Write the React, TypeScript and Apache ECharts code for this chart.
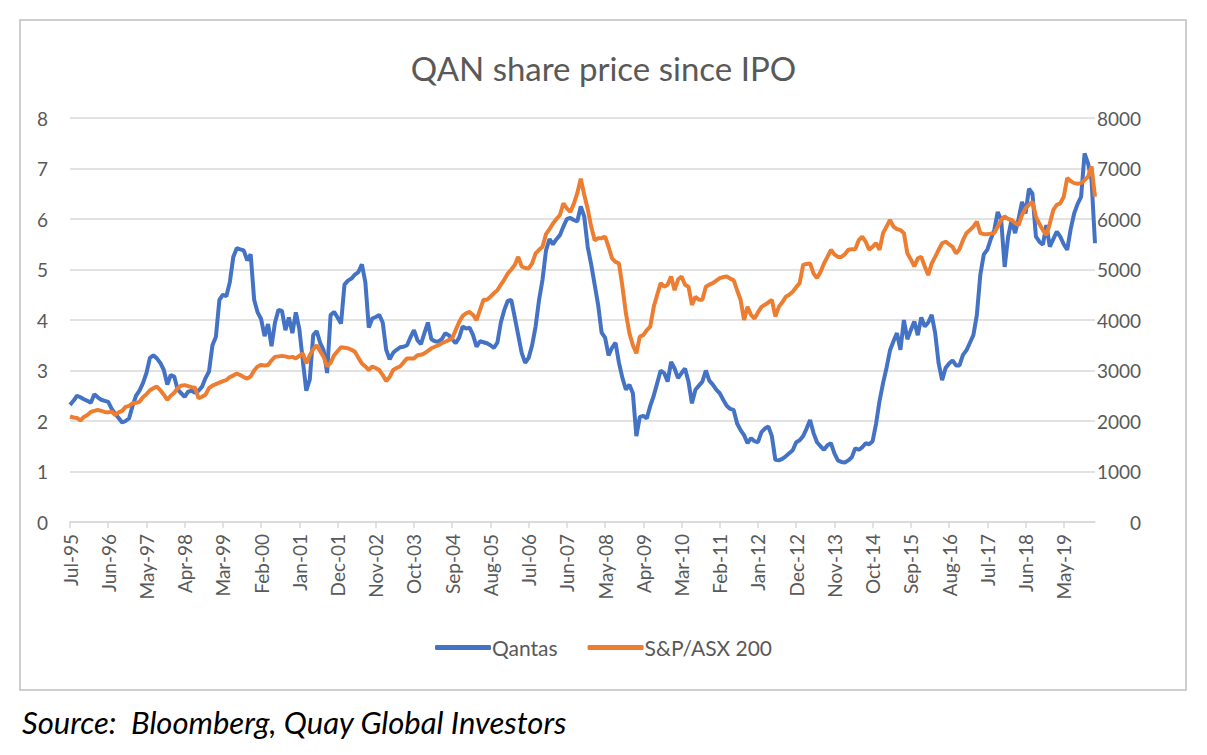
import { useEffect, useRef } from "react";
import * as echarts from "echarts";

/** Month labels, Jul-95 .. Feb-20 (one point per month) */
const MONTHS = ["Jan", "Feb", "Mar", "Apr", "May", "Jun", "Jul", "Aug", "Sep", "Oct", "Nov", "Dec"];
const START_YEAR = 1995;
const START_MONTH = 6; // Jul
const POINT_COUNT = 296;

const categories: string[] = [];
for (let i = 0; i < POINT_COUNT; i++) {
  const m = START_MONTH + i;
  const year = START_YEAR + Math.floor(m / 12);
  categories.push(`${MONTHS[m % 12]}-${String(year % 100).padStart(2, "0")}`);
}

/** Qantas share price, A$ (left axis) */
const qantas = [
  2.32, 2.4, 2.5, 2.47, 2.43, 2.4, 2.36, 2.53, 2.47, 2.42, 2.4, 2.38,
  2.24, 2.14, 2.06, 1.97, 2.0, 2.05, 2.3, 2.5, 2.6, 2.75, 2.95, 3.25,
  3.3, 3.24, 3.15, 3.01, 2.72, 2.91, 2.88, 2.62, 2.55, 2.48, 2.58, 2.6,
  2.56, 2.6, 2.68, 2.85, 2.98, 3.5, 3.67, 4.4, 4.5, 4.47, 4.75, 5.25,
  5.42, 5.4, 5.38, 5.18, 5.3, 4.4, 4.15, 4.02, 3.68, 3.92, 3.48, 3.95,
  4.2, 4.18, 3.8, 4.05, 3.74, 4.15, 3.82, 3.2, 2.6, 2.82, 3.7, 3.78,
  3.55, 3.4, 2.95, 4.1, 4.16, 4.05, 3.93, 4.7, 4.78, 4.82, 4.9, 4.95,
  5.1, 4.75, 3.85, 4.03, 4.06, 4.1, 3.95, 3.41, 3.22, 3.35, 3.41, 3.46,
  3.47, 3.5, 3.66, 3.8, 3.6, 3.52, 3.74, 3.95, 3.62, 3.58, 3.57, 3.62,
  3.74, 3.7, 3.62, 3.54, 3.65, 3.87, 3.83, 3.85, 3.7, 3.47, 3.58, 3.56,
  3.54, 3.5, 3.45, 3.55, 3.95, 4.2, 4.38, 4.4, 4.05, 3.7, 3.35, 3.15,
  3.25, 3.5, 3.87, 4.4, 4.8, 5.38, 5.6, 5.5, 5.6, 5.68, 5.85, 6.0,
  6.02, 5.98, 5.95, 6.25, 6.05, 5.45, 5.1, 4.7, 4.3, 3.75, 3.65, 3.3,
  3.45, 3.55, 3.15, 2.85, 2.62, 2.72, 2.55, 1.7, 2.08, 2.1, 2.05, 2.3,
  2.5, 2.75, 3.0, 2.95, 2.78, 3.17, 3.04, 2.85, 2.95, 3.04, 2.78, 2.35,
  2.62, 2.7, 2.78, 3.0, 2.8, 2.72, 2.62, 2.55, 2.42, 2.3, 2.24, 2.22,
  1.95, 1.82, 1.72, 1.56, 1.66, 1.6, 1.58, 1.78, 1.85, 1.89, 1.7, 1.23,
  1.22, 1.25, 1.3, 1.36, 1.42, 1.58, 1.62, 1.7, 1.85, 2.02, 1.76, 1.58,
  1.5, 1.43, 1.52, 1.56, 1.36, 1.22, 1.19, 1.18, 1.22, 1.28, 1.46, 1.43,
  1.48, 1.56, 1.54, 1.6, 1.95, 2.4, 2.75, 3.05, 3.4, 3.58, 3.74, 3.41,
  4.0, 3.62, 3.8, 3.97, 3.7, 4.05, 3.87, 3.95, 4.1, 3.74, 3.14, 2.81,
  3.05, 3.14, 3.2, 3.1, 3.1, 3.31, 3.4, 3.55, 3.7, 4.1, 4.9, 5.3,
  5.39, 5.6, 5.78, 6.14, 5.98, 5.05, 5.65, 5.98, 5.72, 6.0, 6.34, 6.11,
  6.6, 6.5, 5.65, 5.55, 5.49, 5.88, 5.45, 5.6, 5.75, 5.65, 5.5, 5.39,
  5.8, 6.11, 6.3, 6.44, 7.3, 7.1, 6.77, 5.52,
];

/** S&P/ASX 200 index level (right axis) */
const asx200 = [
  2090, 2070, 2060, 2010, 2080, 2120, 2180, 2200, 2220, 2200, 2180, 2170,
  2185, 2120, 2170, 2200, 2280, 2300, 2350, 2360, 2380, 2470, 2530, 2610,
  2650, 2680, 2610, 2520, 2420, 2500, 2560, 2650, 2700, 2710, 2690, 2670,
  2660, 2450, 2480, 2520, 2650, 2700, 2730, 2760, 2790, 2810, 2870, 2900,
  2940, 2910, 2870, 2840, 2880, 3000, 3080, 3110, 3100, 3110, 3200, 3270,
  3280, 3290, 3280, 3260, 3270, 3240, 3290, 3340, 3140, 3300, 3420, 3500,
  3380, 3270, 3080, 3150, 3300, 3380, 3460, 3450, 3440, 3410, 3370, 3250,
  3140, 3080, 3010, 3080, 3050, 3010, 2910, 2790, 2870, 3010, 3050, 3080,
  3160, 3240, 3240, 3240, 3300, 3310, 3340, 3390, 3440, 3470, 3500, 3540,
  3570, 3600, 3640, 3800, 3960, 4080, 4130, 4160, 4100, 4000, 4200, 4400,
  4400, 4460, 4530, 4590, 4700, 4800, 4920, 5000, 5090, 5250, 5060, 5030,
  5020, 5120, 5320, 5390, 5450, 5700, 5800, 5910, 6000, 6080, 6310, 6210,
  6140, 6300, 6510, 6800, 6480, 6200, 5850, 5580, 5620, 5620, 5650, 5450,
  5220, 5150, 5120, 4660, 4130, 3740, 3500, 3340, 3670, 3700, 3800, 3870,
  4260, 4500, 4730, 4660, 4700, 4860, 4590, 4800, 4860, 4700, 4660, 4300,
  4460, 4400, 4400, 4660, 4700, 4730, 4780, 4830, 4850, 4860, 4820, 4790,
  4590, 4400, 4000, 4260, 4100, 4030, 4150, 4260, 4300, 4350, 4400, 4070,
  4260, 4350, 4460, 4500, 4560, 4650, 4730, 5090, 5110, 5120, 4920, 4830,
  4950, 5120, 5250, 5390, 5300, 5250, 5250, 5300, 5390, 5400, 5400, 5580,
  5650, 5550, 5390, 5450, 5520, 5390, 5720, 5850, 5980, 5850, 5800, 5780,
  5720, 5320, 5200, 5060, 5220, 5250, 5060, 4890, 5120, 5250, 5390, 5520,
  5550, 5500, 5450, 5320, 5400, 5580, 5720, 5780, 5850, 5950, 5720, 5700,
  5700, 5710, 5720, 5850, 5980, 6050, 6000, 5980, 5920, 5880, 6080, 6210,
  6280, 6340, 6050, 5900, 5780, 5680, 5910, 6180, 6280, 6310, 6440, 6810,
  6750, 6710, 6700, 6710, 6770, 6840, 7040, 6440,
];

const FONT = "Lato, 'Open Sans', sans-serif";
const TEXT_GREY = "#595959";
const LINE_GREY = "#d9d9d9";

/** QAN share price vs S&P/ASX 200 line chart */
export default function App() {
  const chartRef = useRef<HTMLDivElement>(null);

  useEffect(() => {
    if (!chartRef.current) return;

    const chart = echarts.init(chartRef.current, undefined, { renderer: "svg" });

    const option = {
      animation: false,
      backgroundColor: "#ffffff",
      textStyle: { fontFamily: FONT },
      title: {
        text: "QAN share price since IPO",
        left: "center",
        top: 46,
        textStyle: {
          fontFamily: FONT,
          fontSize: 33,
          fontWeight: "normal",
          color: TEXT_GREY,
        },
      },
      legend: {
        bottom: 92,
        left: "center",
        icon: "roundRect",
        itemWidth: 56,
        itemHeight: 5,
        itemGap: 30,
        textStyle: { fontFamily: FONT, fontSize: 21, color: TEXT_GREY, padding: [0, 0, 0, -4] },
        data: ["Qantas", "S&P/ASX 200"],
      },
      grid: {
        left: 70,
        right: 112,
        top: 118,
        bottom: 233,
      },
      xAxis: {
        type: "category",
        data: categories,
        boundaryGap: false,
        axisLine: { lineStyle: { color: LINE_GREY, width: 1.5 } },
        axisTick: { interval: 10, length: 6, lineStyle: { color: LINE_GREY, width: 1.5 } },
        axisLabel: {
          interval: 10,
          rotate: 90,
          margin: 12,
          fontFamily: FONT,
          fontSize: 19,
          color: TEXT_GREY,
        },
        splitLine: { show: false },
      },
      yAxis: [
        {
          type: "value",
          min: 0,
          max: 8,
          interval: 1,
          axisLine: { show: false },
          axisTick: { show: false },
          axisLabel: { margin: 22, fontFamily: FONT, fontSize: 19, color: TEXT_GREY },
          splitLine: { lineStyle: { color: LINE_GREY, width: 1.5 } },
        },
        {
          type: "value",
          min: 0,
          max: 8000,
          interval: 1000,
          axisLine: { show: false },
          axisTick: { show: false },
          axisLabel: {
            margin: 46,
            align: "right",
            fontFamily: FONT,
            fontSize: 19,
            color: TEXT_GREY,
            formatter: (v: number) => String(v),
          },
          splitLine: { show: false },
        },
      ],
      series: [
        {
          name: "Qantas",
          type: "line",
          data: qantas,
          yAxisIndex: 0,
          symbol: "none",
          lineStyle: { color: "#4472c4", width: 4 },
          itemStyle: { color: "#4472c4" },
        },
        {
          name: "S&P/ASX 200",
          type: "line",
          data: asx200,
          yAxisIndex: 1,
          symbol: "none",
          lineStyle: { color: "#ed7d31", width: 4 },
          itemStyle: { color: "#ed7d31" },
        },
      ],
      graphic: [
        {
          type: "rect",
          shape: { x: 20, y: 20, width: 1166, height: 670 },
          style: { fill: "none", stroke: "#bfbfbf", lineWidth: 1.5 },
          silent: true,
        },
        {
          type: "text",
          x: 22,
          y: 722,
          style: {
            text: "Source:  Bloomberg, Quay Global Investors",
            font: `italic 31px ${FONT}`,
            fill: "#000000",
            textVerticalAlign: "middle",
          },
        },
      ],
    };

    chart.setOption(option);

    return () => {
      chart.dispose();
    };
  }, []);

  return (
    <div
      ref={chartRef}
      style={{ position: "fixed", left: 0, top: 0, width: 1207, height: 755 }}
    />
  );
}
